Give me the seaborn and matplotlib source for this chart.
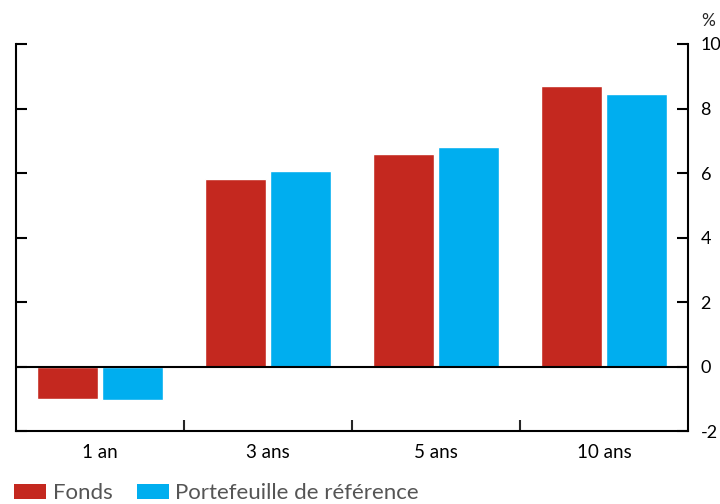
import numpy as np
import pandas as pd
import matplotlib
matplotlib.use('Agg')
import matplotlib.pyplot as plt
from matplotlib.patches import Patch
import seaborn as sns

# données
periodes = ['1 an', '3 ans', '5 ans', '10 ans']
fonds = [-1.0, 5.8, 6.6, 8.7]
reference = [-1.05, 6.05, 6.8, 8.45]
series = ['Fonds', 'Portefeuille de référence']
couleurs = ['#c4281f', '#00aeef']
yticks = [-2, 0, 2, 4, 6, 8, 10]

sns.set_style('white')
plt.rcParams['font.family'] = ['Lato', 'DejaVu Sans']

df = pd.DataFrame({
    'periode': periodes * 2,
    'serie': [series[0]] * 4 + [series[1]] * 4,
    'valeur': fonds + reference,
})

fig = plt.figure(figsize=(7.2, 5.04), dpi=100)
ax = fig.add_axes([0.0222, 0.1448, 0.9334, 0.7679])

sns.barplot(data=df, x='periode', y='valeur', hue='serie', order=periodes,
            hue_order=series, palette=couleurs, width=0.78, gap=0.07,
            saturation=1, legend=False, ax=ax)

ax.set_xlim(-0.5, len(periodes) - 0.5)
ax.set_ylim(-2, 10)
ax.axhline(0, color='black', lw=1.5, zorder=3)

# axes
for s in ['left', 'right', 'bottom']:
    ax.spines[s].set_visible(True)
    ax.spines[s].set_color('black')
    ax.spines[s].set_linewidth(1.5)
ax.spines['top'].set_visible(False)

ax.yaxis.tick_right()
ax.set_yticks(yticks)
ax.set_yticklabels([str(v) for v in yticks])
ax.tick_params(axis='y', which='major', direction='in', length=8, width=1.5,
               left=True, right=True, labelleft=False, labelright=True,
               labelsize=13, pad=9, colors='black')

ax.set_xticks(np.arange(0.5, len(periodes) - 1, 1.0))
ax.set_xticklabels([])
ax.set_xticks(np.arange(len(periodes)), minor=True)
ax.set_xticklabels(periodes, minor=True)
ax.tick_params(axis='x', which='major', direction='in', length=8, width=1.5, bottom=True)
ax.tick_params(axis='x', which='minor', length=0, labelsize=13.5, pad=9, colors='black')
ax.set_xlabel('')
ax.set_ylabel('')

fig.text(0.984, 0.942, '%', ha='center', va='bottom', fontsize=12.5)

# légende
handles = [Patch(facecolor=c, edgecolor='none') for c in couleurs]
fig.legend(handles, series, loc='lower left', bbox_to_anchor=(-0.008, -0.038),
           ncol=2, frameon=False, fontsize=16, handlelength=1.45, handleheight=0.65,
           handletextpad=0.28, columnspacing=1.1, labelcolor='#555555')

plt.savefig('out.png', dpi=100)
